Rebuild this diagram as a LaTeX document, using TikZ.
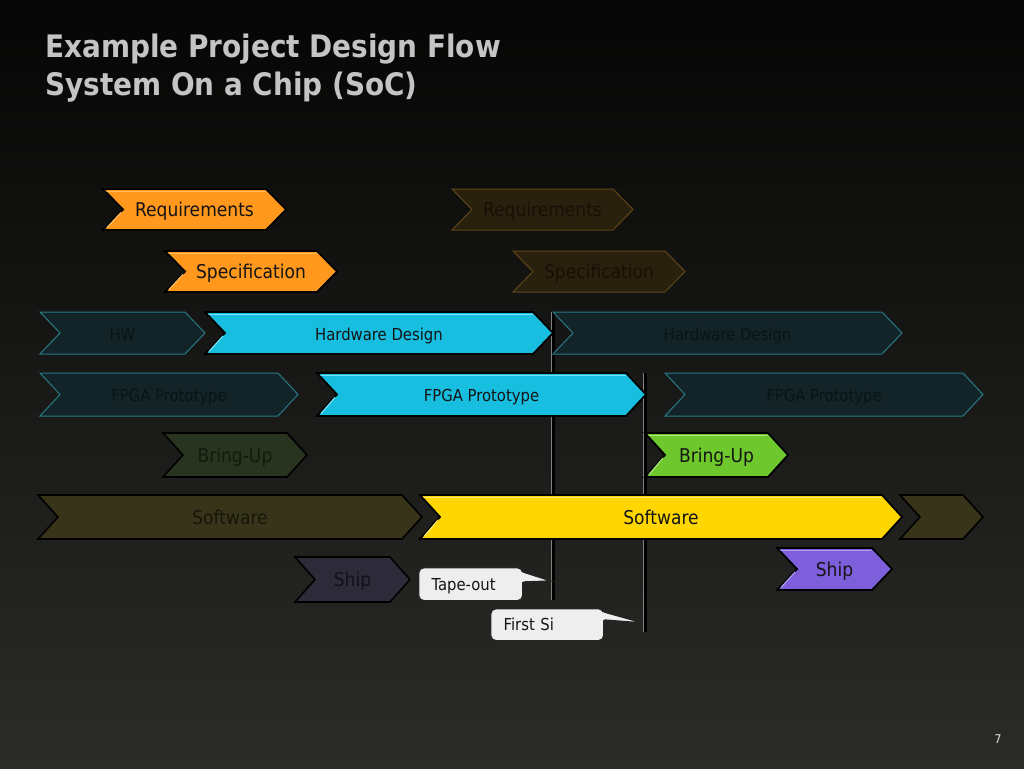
\documentclass[tikz,border=0pt]{standalone}
\usepackage{fontspec}
\setmainfont{DejaVu Sans Condensed}
\usetikzlibrary{calc}
\definecolor{bgbot}{RGB}{62,62,56}
\definecolor{bgmid}{RGB}{28,28,26}
\definecolor{titlegray}{RGB}{196,196,196}
\definecolor{corange}{RGB}{255,152,28}
\definecolor{corangeH}{RGB}{255,190,100}
\definecolor{gorange}{RGB}{42,32,14}
\definecolor{gorangeE}{RGB}{95,70,25}
\definecolor{gorangeT}{RGB}{22,16,6}
\definecolor{cblue}{RGB}{23,190,224}
\definecolor{cblueH}{RGB}{120,225,245}
\definecolor{gteal}{RGB}{18,36,40}
\definecolor{gtealE}{RGB}{40,120,135}
\definecolor{gtealT}{RGB}{8,20,24}
\definecolor{cgreen}{RGB}{110,200,45}
\definecolor{cgreenH}{RGB}{170,230,120}
\definecolor{ggreen}{RGB}{40,52,32}
\definecolor{ggreenT}{RGB}{18,26,12}
\definecolor{cyellow}{RGB}{255,214,0}
\definecolor{cyellowH}{RGB}{255,235,110}
\definecolor{golive}{RGB}{55,52,25}
\definecolor{goliveT}{RGB}{22,22,10}
\definecolor{cpurple}{RGB}{125,95,220}
\definecolor{cpurpleH}{RGB}{175,155,240}
\definecolor{gpurple}{RGB}{45,42,58}
\definecolor{gpurpleT}{RGB}{18,16,26}
\definecolor{ctext}{RGB}{20,20,20}
\definecolor{callfill}{RGB}{238,238,238}
\definecolor{linegray}{RGB}{130,130,130}
\pgfdeclareverticalshading{bgshade}{100bp}{color(0bp)=(bgbot); color(45bp)=(bgmid); color(82bp)=(black); color(100bp)=(black)}
\tikzset{
  brightchev/.style={fill=#1, draw=black, line width=1.8pt, line join=miter},
  ghostchev/.style={fill=#1, draw=black, line width=1.6pt, line join=miter},
  tealchev/.style={fill=gteal, draw=gtealE, line width=1pt, line join=miter},
  orangeghost/.style={fill=gorange, draw=gorangeE, line width=1pt, line join=miter},
  highlight/.style={draw=#1, line width=1.2pt, line cap=round},
  biglabel/.style={text=#1, font=\fontsize{19}{22}\selectfont, inner sep=0pt, anchor=base},
  smalllabel/.style={text=#1, font=\fontsize{16.5}{20}\selectfont, inner sep=0pt, anchor=base},
  callout/.style={fill=callfill, draw=black!85, line width=1.4pt, rounded corners=5pt, font=\fontsize{16.5}{20}\selectfont, text=ctext, anchor=north west, inner xsep=13pt, inner ysep=0pt, text height=14pt, text depth=2pt, align=left},
  milestone/.style={line width=4.6pt, draw=linegray},
  milestonecore/.style={line width=3pt, draw=black},
}
% name, x left, x tip, y top, y bottom, shape style, label style, text
\newcommand\mychev[8]{%
  \path[#6] (#2,#4) -- ({#3-20},#4) -- (#3,{(#4+#5)/2}) -- ({#3-20},#5) -- (#2,#5) -- ({#2+20},{(#4+#5)/2}) -- cycle;
  \node[#7] (#1) at ({(#2+#3)/2},{(#4+#5)/2+7}) {#8};
}
% bevel highlight along top edge and upper notch edge of a bright chevron
\newcommand\mybevel[5]{%
  \draw[highlight=#5] ({#1+4},{#3+2.2}) -- ({#2-21},{#3+2.2});
  \draw[highlight=#5] ({#1+18},{(#3+#4)/2+3}) -- ({#1+4},{#4-2.5});
}
\begin{document}
\begin{tikzpicture}[x=1pt,y=-1pt]
\useasboundingbox (0,0) rectangle (1024,768);
\shade[shading=bgshade] (0,0) rectangle (1024,768);
% title
\node[anchor=base west, text=titlegray, font=\bfseries\fontsize{31}{36}\selectfont, inner sep=0pt] (t1) at (45,58) {Example Project Design Flow};
\node[anchor=base west, text=titlegray, font=\bfseries\fontsize{31}{36}\selectfont, inner sep=0pt] (t2) at (45,95) {System On a Chip (SoC)};
% milestone lines (behind bars)
\coordinate (l1top) at (553,312);
\coordinate (l1bot) at (553,600);
\coordinate (l2top) at (645,373);
\coordinate (l2bot) at (645,632);
\draw[milestone] (l1top) -- (l1bot);
\draw[milestonecore] (l1top) -- (l1bot);
\draw[milestone] (l2top) -- (l2bot);
\draw[milestonecore] (l2top) -- (l2bot);
% row 1
\mychev{req}{103}{286}{189}{230}{brightchev=corange}{biglabel=ctext}{Requirements}
\mybevel{103}{286}{189}{230}{corangeH}
\mychev{reqg}{452}{633}{189}{230}{orangeghost}{biglabel=gorangeT}{Requirements}
% row 2
\mychev{spec}{165}{337}{251}{292}{brightchev=corange}{biglabel=ctext}{Specification}
\mybevel{165}{337}{251}{292}{corangeH}
\mychev{specg}{513}{685}{251}{292}{orangeghost}{biglabel=gorangeT}{Specification}
% row 3
\mychev{hw}{40}{205}{312}{354}{tealchev}{smalllabel=gtealT}{HW}
\mychev{hwd}{205}{553}{312}{354}{brightchev=cblue}{smalllabel=ctext}{Hardware Design}
\mybevel{205}{553}{312}{354}{cblueH}
\mychev{hwdg}{553}{902}{312}{354}{tealchev}{smalllabel=gtealT}{Hardware Design}
% row 4
\mychev{fpgag}{40}{298}{373}{416}{tealchev}{smalllabel=gtealT}{FPGA Prototype}
\mychev{fpga}{317}{646}{373}{416}{brightchev=cblue}{smalllabel=ctext}{FPGA Prototype}
\mybevel{317}{646}{373}{416}{cblueH}
\mychev{fpgag2}{665}{983}{373}{416}{tealchev}{smalllabel=gtealT}{FPGA Prototype}
% row 5
\mychev{bupg}{163}{307}{433}{477}{ghostchev=ggreen}{biglabel=ggreenT}{Bring-Up}
\mychev{bup}{645}{788}{433}{477}{brightchev=cgreen}{biglabel=ctext}{Bring-Up}
\mybevel{645}{788}{433}{477}{cgreenH}
% row 6
\mychev{swg}{38}{422}{495}{539}{ghostchev=golive}{biglabel=goliveT}{Software}
\mychev{sw}{420}{902}{495}{539}{brightchev=cyellow}{biglabel=ctext}{Software}
\mybevel{420}{902}{495}{539}{cyellowH}
\mychev{swg2}{900}{983}{495}{539}{ghostchev=golive}{biglabel=goliveT}{}
% row 7
\mychev{ship}{777}{892}{548}{590}{brightchev=cpurple}{biglabel=ctext}{Ship}
\mybevel{777}{892}{548}{590}{cpurpleH}
\mychev{shipg}{295}{410}{557}{602}{ghostchev=gpurple}{biglabel=gpurpleT}{Ship}
% callouts
\node[callout, minimum width=104pt, minimum height=33pt, text width=78pt] (tape) at (418,567) {Tape-out};
\coordinate (tapetip) at (551,581);
\fill[callfill] ($(tape.north east)+(-2,5)$) -- (tapetip) -- ($(tape.north east)+(-2,15)$) -- cycle;
\draw[black!85, line width=1.4pt, line join=miter] ($(tape.north east)+(0,5)$) -- (tapetip) -- ($(tape.north east)+(0,15)$);
\node[callout, minimum width=113pt, minimum height=32pt, text width=87pt] (firstsi) at (490,608) {First Si};
\coordinate (sitip) at (643,623);
\fill[callfill] ($(firstsi.north east)+(-2,4)$) -- (sitip) -- ($(firstsi.north east)+(-2,12)$) -- cycle;
\draw[black!85, line width=1.4pt, line join=miter] ($(firstsi.north east)+(0,4)$) -- (sitip) -- ($(firstsi.north east)+(0,12)$);
% page number
\node[text=white!90!black, font=\fontsize{12}{14}\selectfont, inner sep=0pt] (pnum) at (998,739) {7};
\end{tikzpicture}
\end{document}
